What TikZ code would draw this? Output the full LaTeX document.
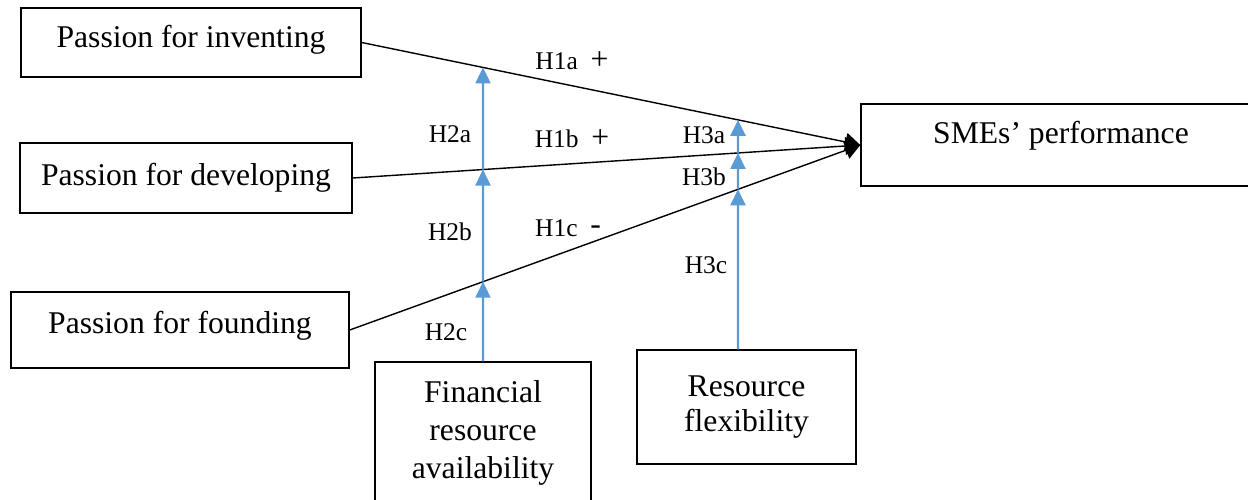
\documentclass[tikz,border=0pt]{standalone}
\usepackage{fontspec}
\setmainfont{Liberation Serif}
\usepackage{xcolor}
\usepackage{tikz}
\usetikzlibrary{positioning, arrows.meta, calc}

\definecolor{modblue}{RGB}{91,155,213}

\begin{document}
\begin{tikzpicture}[
    box/.style={draw, line width=0.8pt, align=center, font=\fontsize{18}{21.6}\selectfont},
    passion/.style={box, minimum height=1.4cm},
    arr/.style={-{Triangle[length=0.3cm, width=0.36cm]}, line width=0.8pt},
    modarr/.style={-{Triangle[length=0.32cm, width=0.3cm]}, draw=modblue, fill=modblue, line width=1.3pt},
    hyp/.style={font=\fontsize{14.5}{17}\selectfont, inner sep=1pt},
]
\useasboundingbox (0,0) rectangle (24.96,-9.98);

% === Passion dimensions ===
\node[passion, minimum width=6.8cm, minimum height=1.38cm, text depth=0.25cm] (inv) at (3.82,-0.85) {Passion for inventing};
\node[passion, minimum width=6.64cm] (dev) at (3.72,-3.56) {Passion for developing};
\node[passion, minimum width=6.76cm, minimum height=1.52cm, text depth=0.3cm] (fou) at (3.60,-6.60) {Passion for founding};

% === Outcome ===
\node[box, minimum width=8.0cm, minimum height=1.64cm, text depth=0.5cm] (sme) at (21.22,-2.90) {SMEs' performance};

% === Moderators ===
\node[box, minimum width=4.32cm, minimum height=2.84cm] (fin) at (9.66,-8.66) {Financial\\resource\\availability};
\node[box, minimum width=4.38cm, minimum height=2.28cm, font=\fontsize{18}{19.5}\selectfont] (flex) at (14.93,-8.14) {Resource\\flexibility};

% === Direct effects ===
\draw[arr] (inv.east) -- (sme.west);
\draw[arr] (dev.east) -- (sme.west);
\draw[arr] (fou.east) -- (sme.west);

% === Moderating effects ===
\coordinate (finup) at ([yshift=8cm]fin.north);
\coordinate (flexbot) at ([xshift=-0.17cm]flex.north);
\coordinate (flexup) at ([yshift=8cm]flexbot);

\coordinate (f1) at (intersection of fou.east--sme.west and fin.north--finup);
\coordinate (f2) at (intersection of dev.east--sme.west and fin.north--finup);
\coordinate (f3) at (intersection of inv.east--sme.west and fin.north--finup);
\coordinate (r1) at (intersection of fou.east--sme.west and flexbot--flexup);
\coordinate (r2) at (intersection of dev.east--sme.west and flexbot--flexup);
\coordinate (r3) at (intersection of inv.east--sme.west and flexbot--flexup);

\draw[modarr] (fin.north) -- (f1);
\draw[modarr] (f1) -- (f2);
\draw[modarr] (f2) -- (f3);
\draw[modarr] (flexbot) -- (r1);
\draw[modarr] (r1) -- (r2);
\draw[modarr] (r2) -- (r3);

% === Hypothesis labels ===
\node[hyp] (h1a) at (11.44,-1.22) {H1a\enspace{\fontsize{18}{18}\selectfont+}};
\node[hyp] (h1b) at (11.44,-2.78) {H1b\enspace{\fontsize{18}{18}\selectfont+}};
\node[hyp] (h1c) at (11.36,-4.56) {H1c\enspace{\fontsize{18}{18}\selectfont\raisebox{1pt}{-}}};
\node[hyp] (h2a) at (9.00,-2.68) {H2a};
\node[hyp] (h2b) at (9.00,-4.64) {H2b};
\node[hyp] (h2c) at (8.92,-6.64) {H2c};
\node[hyp] (h3a) at (14.08,-2.70) {H3a};
\node[hyp] (h3b) at (14.08,-3.54) {H3b};
\node[hyp] (h3c) at (14.12,-5.30) {H3c};

\end{tikzpicture}
\end{document}
